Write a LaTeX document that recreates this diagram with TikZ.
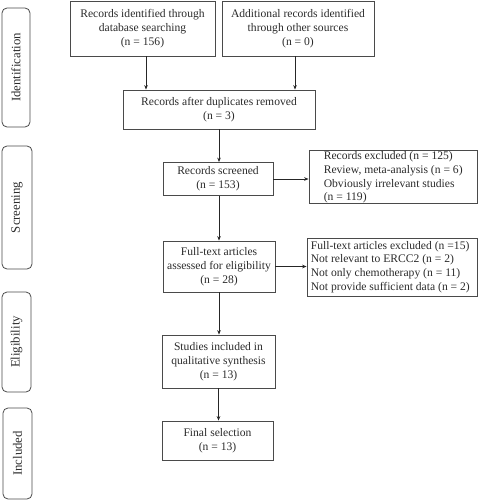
\documentclass[tikz,border=0pt]{standalone}
\usepackage{fontspec}
\setmainfont{Liberation Serif}
\usetikzlibrary{arrows.meta}
\definecolor{linecol}{HTML}{4A4A4A}
\definecolor{txtcol}{HTML}{2B2B2B}
\tikzset{
  box/.style={draw=linecol, line width=0.8pt, align=center, text=txtcol, inner sep=0pt,
    font=\fontsize{11.6}{14.2}\selectfont},
  exbox/.style={draw=linecol, line width=0.8pt, inner sep=0pt},
  extxt/.style={align=left, text=txtcol, inner sep=0pt, anchor=west,
    font=\fontsize{11.6}{13.8}\selectfont},
  side/.style={draw=linecol, line width=0.8pt, rounded corners=5pt, text=txtcol, inner sep=0pt},
  sidetxt/.style={rotate=90, text=txtcol, font=\fontsize{12.8}{14}\selectfont},
  arr/.style={draw=black!85, line width=0.8pt, -{Stealth[length=4.5pt,width=3.6pt]}}
}
\begin{document}
\begin{tikzpicture}[x=1pt,y=-1pt]
\useasboundingbox (0,0) rectangle (478,500);
% side panels
\node[side, minimum width=28pt, minimum height=119pt] (pid) at (16,67.5) {};
\node[sidetxt] (tid) at (pid.center) {Identification};
\node[side, minimum width=30pt, minimum height=123pt] (psc) at (17,207.5) {};
\node[sidetxt] (tsc) at (psc.center) {Screening};
\node[side, minimum width=29pt, minimum height=100pt] (pel) at (16.5,342) {};
\node[sidetxt] (tel) at (pel.center) {Eligibility};
\node[side, minimum width=29pt, minimum height=91pt] (pin) at (17.5,453.5) {};
\node[sidetxt] (tin) at (pin.center) {Included};
% main boxes
\node[box, minimum width=145pt, minimum height=55pt] (b1) at (142.5,28.5) {Records identified through\\database searching\\(n = 156)};
\node[box, minimum width=152pt, minimum height=55pt] (b2) at (298,28.5) {Additional records identified\\through other sources\\(n = 0)};
\node[box, minimum width=192pt, minimum height=39pt] (b3) at (219,109.5) {Records after duplicates removed\\(n = 3)};
\node[box, minimum width=110pt, minimum height=33pt] (b4) at (218,179) {Records screened\\(n = 153)};
\node[exbox, minimum width=168pt, minimum height=53pt] (e1) at (393,176.5) {};
\node[extxt] (e1t) at ([xshift=15pt,yshift=-1pt]e1.west) {Records excluded (n = 125)\\Review, meta-analysis (n = 6)\\Obviously irrelevant studies\\(n = 119)};
\node[exbox, minimum width=170pt, minimum height=58pt] (e2) at (392,267) {};
\node[extxt] (e2t) at ([xshift=4pt]e2.west) {Full-text articles excluded (n =15)\\Not relevant to ERCC2 (n = 2)\\Not only chemotherapy (n = 11)\\Not provide sufficient data (n = 2)};
\node[box, minimum width=112pt, minimum height=51pt] (b5) at (219,266.5) {Full-text articles\\assessed for eligibility\\(n = 28)};
\node[box, minimum width=113pt, minimum height=53pt] (b6) at (218.5,361.5) {Studies included in\\qualitative synthesis\\(n = 13)};
\node[box, minimum width=111pt, minimum height=39pt] (b7) at (217.5,440.5) {Final selection\\(n = 13)};
% connectors
\draw[arr] ([xshift=3.5pt]b1.south) -- ([xshift=3.5pt]b1.south |- b3.north);
\draw[arr] ([xshift=-3pt]b2.south) -- ([xshift=-3pt]b2.south |- b3.north);
\draw[arr] (b3.south) -- (b3.south |- b4.north);
\draw[arr] (b4.east) -- (b4.east -| e1.west);
\draw[arr] (b4.south -| b3.south) -- (b3.south |- b5.north);
\draw[arr] (b5.east) -- (b5.east -| e2.west);
\draw[arr] (b5.south) -- (b5.south |- b6.north);
\draw[arr] (b6.south) -- (b6.south |- b7.north);
\end{tikzpicture}
\end{document}
